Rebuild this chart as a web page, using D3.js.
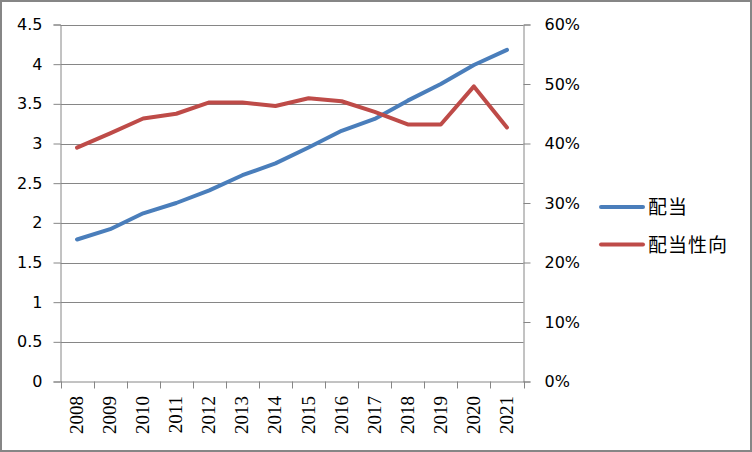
<!DOCTYPE html>
<html><head><meta charset="utf-8">
<script src="https://cdn.jsdelivr.net/npm/d3@7"></script>
<style>body{margin:0;background:#fff}svg{display:block}</style>
</head><body>
<script>
const years = ["2008","2009","2010","2011","2012","2013","2014","2015","2016","2017","2018","2019","2020","2021"];
const dividend = [1.79,1.92,2.12,2.25,2.41,2.6,2.75,2.95,3.16,3.31,3.54,3.75,3.99,4.18];
const payoutRatio = [0.393,0.417,0.442,0.450,0.469,0.469,0.463,0.476,0.471,0.453,0.432,0.432,0.496,0.427];
const leftTicks = [0,0.5,1,1.5,2,2.5,3,3.5,4,4.5];
const rightTicks = [0,0.1,0.2,0.3,0.4,0.5,0.6];
const seriesNames = ["配当","配当性向"];
const colors = ["#4A7EBB","#BE4B48"];

const W = 752, H = 452;
const svg = d3.select("body").append("svg").attr("width", W).attr("height", H);
svg.append("rect").attr("x",1).attr("y",1).attr("width",W-2).attr("height",H-2)
  .attr("fill","#fff").attr("stroke","#868686").attr("stroke-width",2);

const L = 60.5, R = 523.5, T = 24.5, B = 381.5;
const x = d3.scaleBand().domain(years).range([L, R]);
const yL = d3.scaleLinear().domain([0,4.5]).range([B, T]);
const yR = d3.scaleLinear().domain([0,0.6]).range([B, T]);
const grid = "#868686";

// gridlines
svg.append("g").selectAll("line").data(leftTicks.filter(d=>d>0)).join("line")
  .attr("x1", L).attr("x2", R).attr("y1", d=>Math.round(yL(d))+0.5).attr("y2", d=>Math.round(yL(d))+0.5)
  .attr("stroke", grid).attr("stroke-width",1);

// left axis
const gl = svg.append("g").attr("transform",`translate(${L},0)`)
  .call(d3.axisLeft(yL).tickValues(leftTicks).tickSize(7).tickPadding(11).tickFormat(d3.format("")));
gl.select(".domain").attr("stroke",grid);
gl.selectAll(".tick line").attr("stroke",grid);
gl.selectAll("text").attr("font-family","DejaVu Sans").attr("font-size",16).attr("fill","#000");

// right axis
const gr = svg.append("g").attr("transform",`translate(${R},0)`)
  .call(d3.axisRight(yR).tickValues(rightTicks).tickSize(7).tickPadding(14).tickFormat(d3.format(".0%")));
gr.select(".domain").attr("stroke",grid);
gr.selectAll(".tick line").attr("stroke",grid);
gr.selectAll("text").attr("font-family","DejaVu Sans").attr("font-size",16).attr("fill","#000");

// bottom axis
const gb = svg.append("g").attr("transform",`translate(0,${B})`)
  .call(d3.axisBottom(x).tickSize(0).tickFormat(""));
gb.select(".domain").attr("stroke",grid);
const bounds = years.map(d=>x(d)).concat([R]);
svg.append("g").selectAll("line").data(bounds).join("line")
  .attr("x1",d=>Math.round(d)+0.5).attr("x2",d=>Math.round(d)+0.5).attr("y1",B).attr("y2",B+7)
  .attr("stroke",grid);
svg.append("g").selectAll("text").data(years).join("text")
  .attr("transform", d=>`translate(${x(d)+x.bandwidth()/2+6},396) rotate(-90)`)
  .attr("text-anchor","end").attr("font-family","Liberation Serif").attr("font-size",19)
  .attr("fill","#000").text(d=>d);

// lines
const cx = d => x(d) + x.bandwidth()/2;
const line1 = d3.line().x((d,i)=>cx(years[i])).y(d=>yL(d));
const line2 = d3.line().x((d,i)=>cx(years[i])).y(d=>yR(d));
svg.append("path").attr("d", line1(dividend)).attr("fill","none").attr("stroke",colors[0])
  .attr("stroke-width",4).attr("stroke-linejoin","round").attr("stroke-linecap","round");
svg.append("path").attr("d", line2(payoutRatio)).attr("fill","none").attr("stroke",colors[1])
  .attr("stroke-width",4).attr("stroke-linejoin","round").attr("stroke-linecap","round");

// legend
const lg = svg.append("g").selectAll("g").data(seriesNames).join("g")
  .attr("transform",(d,i)=>`translate(601,${207 + i*37.5})`);
lg.append("line").attr("x1",0).attr("x2",42).attr("stroke",(d,i)=>colors[i])
  .attr("stroke-width",4).attr("stroke-linecap","round");
lg.append("text").attr("x",47).attr("y",7).attr("font-family","Noto Sans CJK JP")
  .attr("font-size",19).attr("letter-spacing",1).attr("fill","#000").text(d=>d);
</script>
</body></html>
